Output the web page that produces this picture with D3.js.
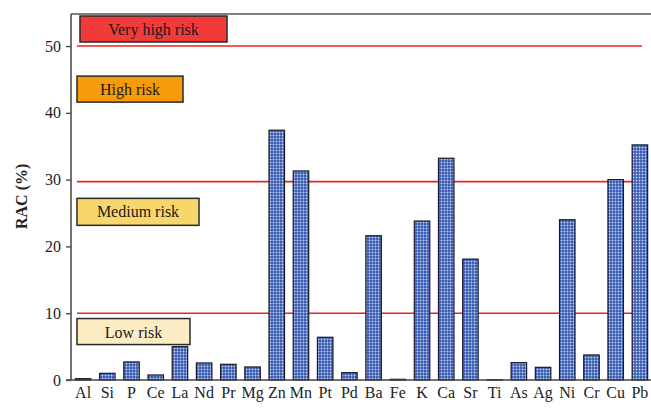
<!DOCTYPE html>
<html>
<head>
<meta charset="utf-8">
<script src="https://cdn.jsdelivr.net/npm/d3@7/dist/d3.min.js"></script>
<style>
  body { margin: 0; background: #fff; }
  svg text { font-family: 'Liberation Serif', 'Times New Roman', Times, 'DejaVu Serif', serif !important; }
</style>
</head>
<body>
<svg width="651" height="408" id="mainsvg"></svg>
<script>
// data
const elements = ['Al', 'Si', 'P', 'Ce', 'La', 'Nd', 'Pr', 'Mg', 'Zn', 'Mn', 'Pt', 'Pd',
                  'Ba', 'Fe', 'K', 'Ca', 'Sr', 'Ti', 'As', 'Ag', 'Ni', 'Cr', 'Cu', 'Pb'];
const racValues = [0.2, 1.0, 2.7, 0.75, 5.0, 2.55, 2.35, 1.95, 37.4, 31.3, 6.4, 1.1,
                   21.6, 0.1, 23.8, 33.2, 18.1, 0.05, 2.6, 1.9, 24.0, 3.75, 30.0, 35.2];
const yTicks = [0, 10, 20, 30, 40, 50];
const thresholds = [10, 29.7, 50];
const riskNames = ['Very high risk', 'High risk', 'Medium risk', 'Low risk'];
const riskTop = [54.5, 45.5, 27.2, 9.2];     // top of each label box, in RAC units
const riskColors = ['#f23a3a', '#f79b0a', '#f7d66a', '#fcecc4'];

const svg = d3.select('#mainsvg');
const margin = { top: 14, right: -1, bottom: 28, left: 71 };
const width = +svg.attr('width');
const height = +svg.attr('height');
const innerWidth = width - margin.left - margin.right;
const innerHeight = height - margin.top - margin.bottom;

const g = svg.append('g').attr('transform', `translate(${margin.left},${margin.top})`);

const xScale = d3.scaleBand().domain(elements).range([0, innerWidth]).paddingInner(0.36).paddingOuter(0.18);
const yScale = d3.scaleLinear().domain([0, 54.8]).range([innerHeight, 0]);

// dotted fill for the bars
const pat = svg.append('defs').append('pattern')
  .attr('id', 'dots').attr('patternUnits', 'userSpaceOnUse')
  .attr('width', 3).attr('height', 3);
pat.append('rect').attr('width', 3).attr('height', 3).attr('fill', '#3558b0');
pat.append('circle').attr('cx', 1.5).attr('cy', 1.5).attr('r', 0.95).attr('fill', '#c2d4f4');

// frame top
g.append('line').attr('x1', 0).attr('x2', innerWidth + 2).attr('y1', 0).attr('y2', 0)
  .attr('stroke', '#555').attr('stroke-width', 1.5);

// threshold lines
g.selectAll('.thr').data(thresholds).enter().append('line')
  .attr('class', 'thr')
  .attr('x1', 6).attr('x2', innerWidth - 10)
  .attr('y1', d => yScale(d)).attr('y2', d => yScale(d))
  .attr('stroke', '#ee2222').attr('stroke-width', 1.6);

// bars
g.selectAll('.bar').data(racValues).enter().append('rect')
  .attr('class', 'bar')
  .attr('x', (d, i) => xScale(elements[i]))
  .attr('width', xScale.bandwidth())
  .attr('y', d => yScale(d))
  .attr('height', d => innerHeight - yScale(d))
  .attr('fill', 'url(#dots)')
  .attr('stroke', '#1a1a2a').attr('stroke-width', 1.2);

// risk label boxes
const boxW = [147, 106, 122, 113];
const box = g.selectAll('.risk').data(riskNames).enter().append('g')
  .attr('class', 'risk')
  .attr('transform', (d, i) => `translate(${i === 0 ? 9 : 6},${yScale(riskTop[i])})`);
box.append('rect')
  .attr('width', (d, i) => boxW[i]).attr('height', (d, i) => i === 2 ? 27 : 26)
  .attr('fill', (d, i) => riskColors[i])
  .attr('stroke', '#2a2a2a').attr('stroke-width', 1.5);
box.append('text')
  .attr('x', (d, i) => boxW[i] / 2).attr('y', 13.5)
  .attr('dy', '0.35em').attr('text-anchor', 'middle')
  .attr('font-size', 16).attr('fill', '#1a1a1a')
  .text(d => d);

// axes
const yAxis = d3.axisLeft(yScale).tickValues(yTicks).tickSize(5).tickPadding(5);
const yAxisGroup = g.append('g').call(yAxis).attr('font-family', null);
yAxisGroup.select('.domain').attr('stroke', '#444').attr('stroke-width', 1.5)
  .attr('d', `M0,${innerHeight}V0`);
yAxisGroup.selectAll('.tick line').attr('stroke', '#444').attr('stroke-width', 1.3);
yAxisGroup.selectAll('.tick text').attr('font-size', 16).attr('fill', '#222');

const xAxis = d3.axisBottom(xScale).tickSize(0).tickPadding(7);
const xAxisGroup = g.append('g').attr('transform', `translate(0,${innerHeight})`).call(xAxis)
  .attr('font-family', null);
xAxisGroup.select('.domain').attr('stroke', '#444').attr('stroke-width', 1.5)
  .attr('d', `M-5,0H${innerWidth + 2}`);
xAxisGroup.selectAll('.tick text').attr('font-size', 16).attr('fill', '#222');

// y axis title
svg.append('text')
  .attr('transform', `translate(27,${margin.top + yScale(27.5)}) rotate(-90)`)
  .attr('text-anchor', 'middle')
  .attr('font-size', 16).attr('font-weight', 'bold').attr('fill', '#222')
  .text('RAC (%)');
</script>
</body>
</html>
